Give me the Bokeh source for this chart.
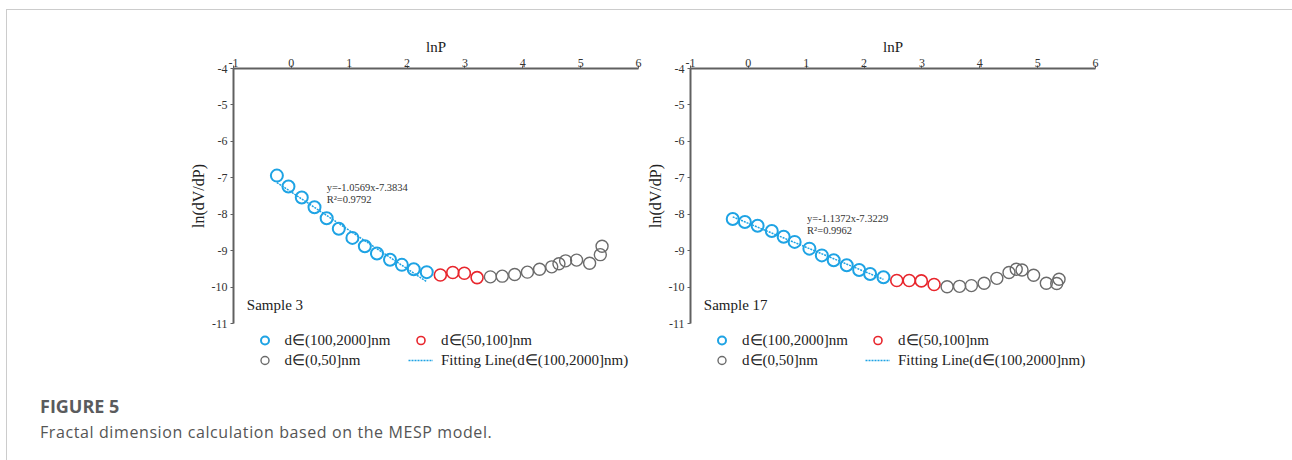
import numpy as np
from bokeh.plotting import figure
from bokeh.models import Range1d, Legend, LegendItem, Label, Div, FixedTicker
from bokeh.layouts import row, column
from bokeh.embed import file_html
from bokeh.resources import INLINE

# ---------------- data ----------------
x_ticks = [-1, 0, 1, 2, 3, 4, 5, 6]
y_ticks = [-11, -10, -9, -8, -7, -6, -5, -4]

# Sample 3
s3_blue_x = [-0.25, -0.05, 0.18, 0.40, 0.61, 0.82, 1.055, 1.27, 1.48, 1.705, 1.91, 2.115, 2.34]
s3_blue_y = [-6.94, -7.24, -7.54, -7.81, -8.11, -8.40, -8.65, -8.88, -9.08, -9.25, -9.39, -9.51, -9.59]
s3_red_x = [2.575, 2.79, 2.99, 3.21]
s3_red_y = [-9.67, -9.60, -9.62, -9.74]
s3_gray_x = [3.44, 3.645, 3.86, 4.08, 4.29, 4.50, 4.625, 4.74, 4.93, 5.155, 5.34, 5.37]
s3_gray_y = [-9.72, -9.70, -9.655, -9.59, -9.51, -9.445, -9.36, -9.28, -9.26, -9.345, -9.11, -8.88]
s3_eq = "y=-1.0569x-7.3834"
s3_r2 = "R\u00b2=0.9792"

# Sample 17
s17_blue_x = [-0.27, -0.06, 0.16, 0.405, 0.61, 0.80, 1.055, 1.27, 1.475, 1.70, 1.915, 2.105, 2.335]
s17_blue_y = [-8.13, -8.215, -8.315, -8.46, -8.62, -8.76, -8.945, -9.13, -9.265, -9.40, -9.53, -9.64, -9.73]
s17_red_x = [2.565, 2.78, 2.99, 3.21]
s17_red_y = [-9.82, -9.82, -9.83, -9.93]
s17_gray_x = [3.435, 3.65, 3.855, 4.075, 4.295, 4.505, 4.63, 4.73, 4.93, 5.15, 5.33, 5.37]
s17_gray_y = [-9.99, -9.98, -9.96, -9.895, -9.76, -9.60, -9.51, -9.53, -9.675, -9.895, -9.90, -9.785]
s17_eq = "y=-1.1372x-7.3229"
s17_r2 = "R\u00b2=0.9962"

legend_labels = ["d\u2208(100,2000]nm", "d\u2208(50,100]nm", "d\u2208(0,50]nm",
                 "Fitting Line(d\u2208(100,2000]nm)"]

BLUE = "#1ea3e4"
RED = "#e8262d"
GRAY = "#6b6b6b"
AXIS = "#606060"
SERIF = "Liberation Serif"

FIT_STYLE = dict(line_color=BLUE, line_width=1.5, line_dash="2 1")
BLUE_STYLE = dict(size=12, fill_color=None, line_color=BLUE, line_width=2)
RED_STYLE = dict(size=12, fill_color=None, line_color=RED, line_width=1.6)
GRAY_STYLE = dict(size=12, fill_color=None, line_color=GRAY, line_width=1.4)


def draw_series(fig, bx, by, rx, ry, gx, gy):
    k, b = np.polyfit(bx, by, 1)          # fitted line from the blue points
    fx = np.array([min(bx), max(bx)])
    r_fit = fig.line(fx, k * fx + b, **FIT_STYLE)
    r_blue = fig.scatter(bx, by, **BLUE_STYLE)
    r_red = fig.scatter(rx, ry, **RED_STYLE)
    r_gray = fig.scatter(gx, gy, **GRAY_STYLE)
    return r_blue, r_red, r_gray, r_fit


def make_plot(series, eq, r2, sample, eq_x, eq_y, border_left, border_right):
    frame_w, frame_h = 405, 255
    top, bottom = 58, 8
    p = figure(width=border_left + frame_w + border_right, height=top + frame_h + bottom,
               x_range=Range1d(-1, 6), y_range=Range1d(-11, -4),
               x_axis_location="above", output_backend="svg", toolbar_location=None,
               min_border_left=border_left, min_border_right=border_right,
               min_border_top=top, min_border_bottom=bottom)
    p.outline_line_color = None
    p.grid.visible = False
    p.background_fill_color = None
    p.border_fill_color = None

    for ax, lab, ticks in ((p.xaxis[0], "lnP", x_ticks), (p.yaxis[0], "ln(dV/dP)", y_ticks)):
        ax.ticker = FixedTicker(ticks=ticks)
        ax.major_label_overrides = {t: str(t) for t in ticks}
        ax.axis_label = lab
        ax.axis_line_color = AXIS
        ax.axis_line_width = 2
        ax.major_tick_line_color = AXIS
        ax.major_tick_line_width = 1
        ax.major_tick_in = 0
        ax.major_tick_out = 3
        ax.minor_tick_line_color = None
        ax.major_label_text_font = SERIF
        ax.major_label_text_font_size = "12px"
        ax.major_label_text_color = "#333333"
        ax.axis_label_text_font = SERIF
        ax.axis_label_text_font_style = "normal"
        ax.axis_label_text_color = "#222222"
    p.xaxis.axis_label_text_font_size = "15px"
    p.xaxis.major_label_standoff = -1
    p.xaxis.axis_label_standoff = 1
    p.yaxis.axis_label_text_font_size = "16px"
    p.yaxis.major_label_standoff = 3
    p.yaxis.axis_label_standoff = 2

    draw_series(p, *series)

    p.add_layout(Label(x=eq_x, y=eq_y, text=eq, text_font=SERIF, text_font_size="10.5px",
                       text_color="#333333"))
    p.add_layout(Label(x=eq_x, y=eq_y - 0.32, text=r2, text_font=SERIF,
                       text_font_size="10.5px", text_color="#333333"))
    p.add_layout(Label(x=-0.77, y=-10.70, text=sample, text_font=SERIF,
                       text_font_size="15px", text_color="#222222"))
    return p


def make_legend(series, width, border_left, leg_a_x, leg_b_x):
    # legend-only strip: same series drawn far outside its visible range
    lf = figure(width=width, height=52, x_range=Range1d(100, 101), y_range=Range1d(100, 101),
                x_axis_type=None, y_axis_type=None, output_backend="svg",
                toolbar_location=None, min_border_left=border_left, min_border_right=0,
                min_border_top=0, min_border_bottom=0)
    lf.outline_line_color = None
    lf.grid.visible = False
    lf.background_fill_color = None
    lf.border_fill_color = None
    r_blue, r_red, r_gray, r_fit = draw_series(lf, *series)

    def legend(items, x):
        lg = Legend(items=items, location=(x, 13), orientation="vertical",
                    glyph_width=25, glyph_height=20, label_height=18, spacing=-1,
                    label_standoff=8, padding=0, margin=0,
                    border_line_color=None, background_fill_alpha=0,
                    label_text_font=SERIF, label_text_font_size="15px",
                    label_text_color="#222222")
        lf.add_layout(lg, "center")

    legend([LegendItem(label=legend_labels[0], renderers=[r_blue]),
            LegendItem(label=legend_labels[2], renderers=[r_gray])], leg_a_x)
    legend([LegendItem(label=legend_labels[1], renderers=[r_red]),
            LegendItem(label=legend_labels[3], renderers=[r_fit])], leg_b_x)
    return lf


s3 = (s3_blue_x, s3_blue_y, s3_red_x, s3_red_y, s3_gray_x, s3_gray_y)
s17 = (s17_blue_x, s17_blue_y, s17_red_x, s17_red_y, s17_gray_x, s17_gray_y)

p1 = make_plot(s3, s3_eq, s3_r2, "Sample 3", 0.61, -7.43, 226, 5)
p2 = make_plot(s17, s17_eq, s17_r2, "Sample 17", 1.015, -8.28, 47, 195)
l1 = make_legend(s3, 636, 226, 18.5, 175)
l2 = make_legend(s17, 647, 47, 19, 175)

caption = Div(
    text=("<div style='padding:8px 0 0 28px;font-family:\"Open Sans\";'>"
          "<div style='font-size:18px;line-height:21.6px;font-weight:700;color:#5a5b5d;'>FIGURE 5</div>"
          "<div style='margin-top:5px;font-size:16px;line-height:18px;letter-spacing:0.6px;color:#555555;'>"
          "Fractal dimension calculation based on the MESP model.</div></div>"),
    width=1283, height=76)

layout = column(row(p1, p2), row(l1, l2), caption,
                styles={"border": "1px solid #cccccc", "border-bottom": "none",
                        "margin-left": "6px", "margin-top": "9px"})

open("out.html", "w").write(file_html(layout, INLINE))
